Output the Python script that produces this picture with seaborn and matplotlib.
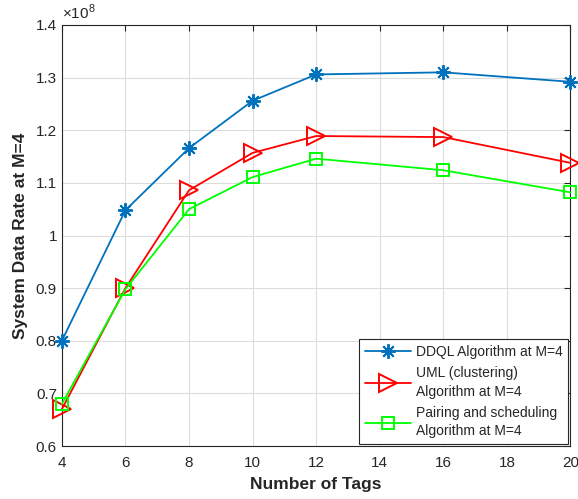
import matplotlib
matplotlib.use('Agg')
import matplotlib.pyplot as plt
import seaborn as sns
import pandas as pd
from matplotlib.ticker import FuncFormatter

# Data (system data rate in units of 1e8)
tags = [4, 6, 8, 10, 12, 16, 20]
ddql = [0.800, 1.048, 1.166, 1.256, 1.306, 1.310, 1.292]
uml = [0.670, 0.900, 1.086, 1.157, 1.189, 1.187, 1.138]
pairing = [0.680, 0.898, 1.050, 1.111, 1.146, 1.124, 1.082]

labels = ['DDQL Algorithm at M=4',
          'UML (clustering)\nAlgorithm at M=4',
          'Pairing and scheduling\nAlgorithm at M=4']

sns.set_style("whitegrid")
plt.rcParams['font.family'] = ['Liberation Sans', 'DejaVu Sans']
plt.rcParams['mathtext.fontset'] = 'custom'
plt.rcParams['mathtext.rm'] = 'Liberation Sans'

fig = plt.figure(figsize=(5.78, 4.99), dpi=100)
ax = fig.add_axes([0.107, 0.106, 0.880, 0.844])

sns.lineplot(x=tags, y=ddql, ax=ax, color='#0072BD', lw=1.3,
             marker=(8, 2, 0), markersize=10.5, mec='#0072BD', mew=1.4,
             label=labels[0], clip_on=False, zorder=3)
sns.lineplot(x=tags, y=uml, ax=ax, color='#FF0000', lw=1.3,
             marker='>', markersize=12.5, mfc='none', mec='#FF0000', mew=1.4,
             label=labels[1], clip_on=False, zorder=3)
sns.lineplot(x=tags, y=pairing, ax=ax, color='#00FF00', lw=1.3,
             marker='s', markersize=8, mfc='none', mec='#00FF00', mew=1.4,
             label=labels[2], clip_on=False, zorder=3)

ax.set_xlim(4, 20)
ax.set_ylim(0.6, 1.4)
ax.set_xticks(range(4, 21, 2))
ax.set_yticks([0.6, 0.7, 0.8, 0.9, 1.0, 1.1, 1.2, 1.3, 1.4])
ax.yaxis.set_major_formatter(FuncFormatter(lambda v, p: f'{v:g}'))

ax.grid(True, color='#dcdcdc', lw=0.8)
for s in ax.spines.values():
    s.set_color('#262626')
    s.set_linewidth(0.8)
ax.tick_params(direction='in', length=4, width=0.8, colors='#262626',
               labelsize=11, top=True, right=True, labelcolor='#262626')
ax.tick_params(axis='x', pad=7)

ax.set_xlabel('Number of Tags', fontsize=12.5, fontweight='bold', color='#262626', labelpad=5)
ax.set_ylabel('System Data Rate at M=4', fontsize=12.5, fontweight='bold', color='#262626', labelpad=6)
ax.text(0.0, 1.008, r'$\times10^{8}$', transform=ax.transAxes, fontsize=11,
        color='#262626', ha='left', va='bottom')

leg = ax.legend(loc='lower right', fontsize=10, fancybox=False, framealpha=1,
                edgecolor='#262626', handlelength=3.3, borderaxespad=0.15,
                labelspacing=0.5, handletextpad=0.4, borderpad=0.4)
leg.get_frame().set_linewidth(0.8)
for t in leg.get_texts():
    t.set_linespacing(1.45)

fig.savefig('out.png', dpi=100)
